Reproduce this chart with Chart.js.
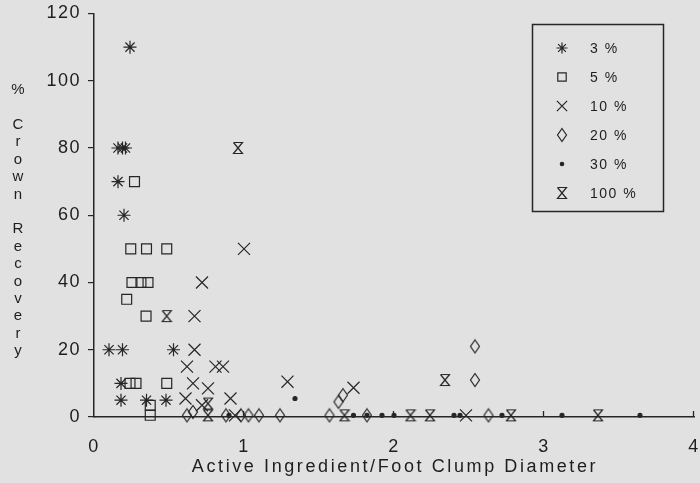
<!DOCTYPE html>
<html>
<head>
<meta charset="utf-8">
<script src="https://cdn.jsdelivr.net/npm/chart.js@4/dist/chart.umd.min.js"></script>
<style>
  html, body { margin: 0; padding: 0; background: #e1e1e1; }
  #wrap { width: 700px; height: 483px; position: relative; }
</style>
</head>
<body>
<div id="wrap"><canvas id="c" width="700" height="483"></canvas></div>
<script>
// Herbicide concentration series: [active ingredient per foot clump diameter, % crown recovery]
const seriesLabels = ['3 %', '5 %', '10 %', '20 %', '30 %', '100 %'];

const pts3 = [[0.24,110],[0.16,80],[0.19,80],[0.21,80],[0.16,70],[0.2,60],[0.1,20],[0.19,20],[0.53,20],
              [0.18,10],[0.18,5],[0.35,5],[0.48,5]];
const pts5 = [[0.27,70],[0.245,50],[0.35,50],[0.485,50],[0.253,40],[0.313,40],[0.36,40],[0.218,35],
              [0.347,30],[0.24,10],[0.28,10],[0.485,10],[0.375,0.5],[0.375,3.5]];
const pts10 = [[1.0,50],[0.72,40],[0.67,30],[0.67,20],[0.62,15],[0.81,15],[0.86,15],[0.66,10],[0.76,8.5],
               [0.61,5.5],[0.91,5.5],[0.72,3.5],[1.29,10.5],[1.73,8.7],[0.94,0.5],[2.48,0.5]];
const pts20 = [[0.62,0.5],[0.66,1.5],[0.88,0.5],[0.98,0.5],[1.03,0.5],[1.1,0.5],[1.24,0.5],[1.57,0.5],
               [1.63,4.5],[1.66,6.5],[1.82,0.5],[2.54,21],[2.54,11],[2.63,0.5]];
const pts30 = [[0.9,0.5],[1.34,5.5],[1.73,0.5],[1.82,0.5],[1.92,0.5],[2.0,0.5],[2.4,0.5],[2.44,0.5],
               [2.72,0.5],[3.12,0.5],[3.64,0.5]];
const pts100 = [[0.96,80],[0.485,30],[0.76,4],[0.76,0.5],[1.67,0.5],[2.11,0.5],[2.24,0.5],[2.34,11],
                [2.78,0.5],[3.36,0.5]];

const xTicks = [0, 1, 2, 3, 4];
const yTicks = [0, 20, 40, 60, 80, 100, 120];
const xTitle = 'Active Ingredient/Foot Clump Diameter';
const yTitle = '% Crown Recovery';

const INK = '#262626';
const FONT = "'Liberation Sans', Arial, sans-serif";

// Custom marker glyphs: tall diamond and hourglass
function makeDiamond() {
  const c = document.createElement('canvas');
  c.width = 12; c.height = 16;
  const g = c.getContext('2d');
  g.strokeStyle = INK; g.lineWidth = 1.2;
  g.beginPath();
  g.moveTo(6, 1.5); g.lineTo(10.5, 8); g.lineTo(6, 14.5); g.lineTo(1.5, 8); g.closePath();
  g.stroke();
  return c;
}
function makeHourglass() {
  const c = document.createElement('canvas');
  c.width = 12; c.height = 14;
  const g = c.getContext('2d');
  g.strokeStyle = INK; g.lineWidth = 1.2;
  g.beginPath();
  g.moveTo(1.5, 1.5); g.lineTo(10.5, 1.5);
  g.lineTo(1.5, 12.5); g.lineTo(10.5, 12.5);
  g.lineTo(1.5, 1.5);
  g.stroke();
  return c;
}
const diamond = makeDiamond();
const hourglass = makeHourglass();

const toXY = arr => arr.map(p => ({ x: p[0], y: p[1] }));

const styles = [
  { pointStyle: 'star', pointRadius: 6.5, hollow: true },
  { pointStyle: 'rect', pointRadius: 7, hollow: true },
  { pointStyle: 'crossRot', pointRadius: 8.5, hollow: true },
  { pointStyle: diamond, pointRadius: 6, hollow: true },
  { pointStyle: 'circle', pointRadius: 2, hollow: false },
  { pointStyle: hourglass, pointRadius: 6, hollow: true }
];
const allPts = [pts3, pts5, pts10, pts20, pts30, pts100];

const datasets = allPts.map((pts, i) => ({
  label: seriesLabels[i],
  data: toXY(pts),
  pointStyle: styles[i].pointStyle,
  pointRadius: styles[i].pointRadius,
  pointBorderWidth: 1.2,
  borderColor: INK,
  pointBorderColor: INK,
  pointBackgroundColor: styles[i].hollow ? 'rgba(0,0,0,0)' : INK,
  showLine: false,
  clip: false
}));

// Letter spacing for all canvas text
const spacingPlugin = {
  id: 'spacing',
  beforeDraw(chart) { chart.ctx.letterSpacing = '1.5px'; }
};

// Inward tick marks on the x axis, titles and boxed key
const decorPlugin = {
  id: 'decor',
  afterDraw(chart) {
    const ctx = chart.ctx;
    const xs = chart.scales.x;
    const area = chart.chartArea;
    ctx.save();
    ctx.strokeStyle = INK;
    ctx.lineWidth = 1.3;
    xTicks.slice(1).forEach(v => {
      const px = Math.round(xs.getPixelForValue(v)) - 0.5;
      ctx.beginPath();
      ctx.moveTo(px, area.bottom);
      ctx.lineTo(px, area.bottom - 6);
      ctx.stroke();
    });

    // x title
    ctx.fillStyle = '#1e1e1e';
    ctx.font = '18px ' + FONT;
    ctx.letterSpacing = '2.6px';
    ctx.textAlign = 'center';
    ctx.textBaseline = 'middle';
    ctx.fillText(xTitle, 395, 467);

    // y title, one character per line
    ctx.font = '15px ' + FONT;
    ctx.letterSpacing = '0px';
    const chars = yTitle.split('');
    chars.forEach((ch, i) => {
      if (ch !== ' ') ctx.fillText(ch, 18, 90 + i * 17.4);
    });

    // key box
    ctx.lineWidth = 1.5;
    ctx.strokeRect(532.5, 24.5, 131, 187);
    ctx.font = '14px ' + FONT;
    ctx.letterSpacing = '1.5px';
    ctx.textAlign = 'left';
    chart.data.datasets.forEach((ds, i) => {
      const y = 48 + i * 29;
      ctx.strokeStyle = INK;
      ctx.fillStyle = styles[i].hollow ? 'rgba(0,0,0,0)' : INK;
      ctx.lineWidth = 1.2;
      Chart.helpers.drawPoint(ctx, {
        pointStyle: ds.pointStyle,
        radius: ds.pointRadius * 0.85,
        rotation: 0,
        borderWidth: 1.2
      }, 562, y);
      ctx.fillStyle = '#1e1e1e';
      ctx.fillText(ds.label, 590, y + 1);
    });
    ctx.restore();
  }
};

// Fixed axis sizes so the plot area spans exactly the intended pixels
function fixX(s) { s.height = 66; s.paddingLeft = 0; s.paddingRight = 0; }
function fixY(s) { s.width = 94; s.paddingTop = 0; s.paddingBottom = 0; }

new Chart(document.getElementById('c'), {
  type: 'scatter',
  data: { datasets },
  options: {
    responsive: false,
    animation: false,
    events: [],
    layout: { autoPadding: false, padding: { left: 0, right: 6, top: 13.5, bottom: 0 } },
    plugins: { legend: { display: false }, tooltip: { enabled: false } },
    scales: {
      x: {
        type: 'linear',
        min: 0, max: 4,
        afterFit: fixX,
        afterBuildTicks: s => { s.ticks = xTicks.map(v => ({ value: v })); },
        border: { display: true, color: INK, width: 1.5 },
        grid: { display: false, drawTicks: false },
        ticks: { color: '#1e1e1e', font: { family: FONT, size: 18 }, padding: 19, maxRotation: 0 }
      },
      y: {
        type: 'linear',
        min: 0, max: 120,
        afterFit: fixY,
        afterBuildTicks: s => { s.ticks = yTicks.map(v => ({ value: v })); },
        border: { display: true, color: INK, width: 1.5 },
        grid: { display: true, drawOnChartArea: false, drawTicks: true, tickLength: 6, color: INK, lineWidth: 1.2 },
        ticks: { color: '#1e1e1e', font: { family: FONT, size: 18 }, padding: 7 }
      }
    }
  },
  plugins: [spacingPlugin, decorPlugin]
});
</script>
</body>
</html>
